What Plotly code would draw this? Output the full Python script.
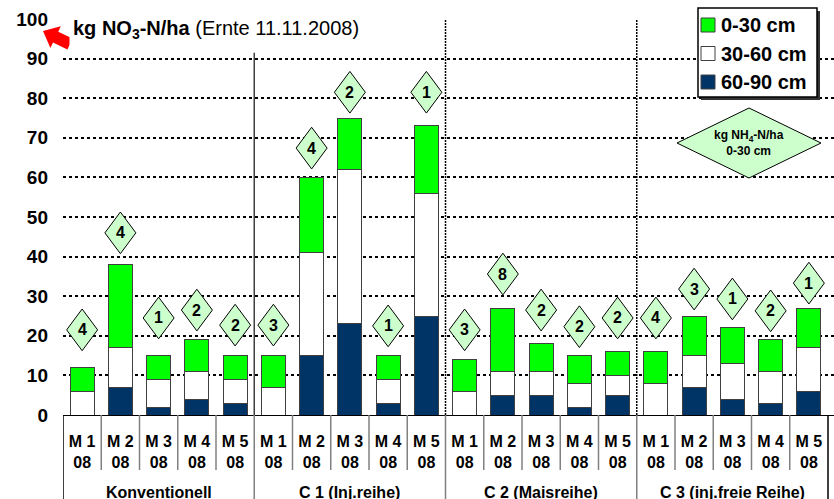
import plotly.graph_objects as go

# Soil nitrate (kg NO3-N/ha) by depth layer, harvest 11.11.2008
groups = ["Konventionell", "C 1 (Inj.reihe)", "C 2 (Maisreihe)", "C 3 (inj.freie Reihe)"]
plots = ["M 1", "M 2", "M 3", "M 4", "M 5"]
year = "08"

layer_60_90 = [0, 7, 2, 4, 3,  0, 15, 23, 3, 25,  0, 5, 5, 2, 5,  0, 7, 4, 3, 6]
layer_30_60 = [6, 10, 7, 7, 6,  7, 26, 39, 6, 31,  6, 6, 6, 6, 5,  8, 8, 9, 8, 11]
layer_0_30 = [6, 21, 6, 8, 6,  8, 19, 13, 6, 17,  8, 16, 7, 7, 6,  8, 10, 9, 8, 10]

# NH4-N (0-30 cm) shown in the diamond badges
nh4_0_30 = [4, 4, 1, 2, 2,  3, 4, 2, 1, 1,  3, 8, 2, 2, 2,  4, 3, 1, 2, 1]
# vertical placement of each badge (y-axis units)
badge_y = [21.5, 46, 24.5, 26.5, 22.7,  22.7, 67.4, 81.5, 22.5, 81.5,
           21.5, 35.6, 26.5, 22.3, 24.5,  24.5, 31.8, 29.3, 26.3, 33.3]

layer_names = ["0-30 cm", "30-60 cm", "60-90 cm"]
layer_colors = ["#00ff00", "#ffffff", "#003366"]

y_ticks = list(range(0, 101, 10))

W, H = 834, 499
ML, MR, MT, MB = 63, 0, 19, 84
PW, PH = W - ML - MR, H - MT - MB
CAT_W = 38.25  # pixels per category


def px_x(px):
    return (px - ML) / PW


def px_y(py):
    return (H - MB - py) / PH


n = len(groups) * len(plots)
xs = list(range(n))
tick_text = [f"{p}<br>{year}" for _ in groups for p in plots]
x_max = -0.5 + PW / CAT_W

FONT = "Liberation Sans, Arial, sans-serif"
bar_line = dict(color="#404040", width=1)

fig = go.Figure()
for vals, name in ((layer_60_90, "60-90 cm"), (layer_30_60, "30-60 cm"), (layer_0_30, "0-30 cm")):
    fig.add_trace(go.Bar(x=xs, y=vals, name=name, width=0.63, showlegend=False,
                         marker=dict(color=layer_colors[layer_names.index(name)], line=bar_line)))

shapes = []
annotations = []

# diamond badges with NH4 values
hw, hh = 0.405, 5.26
for x, yv, v in zip(xs, badge_y, nh4_0_30):
    shapes.append(dict(
        type="path", xref="x", yref="y",
        path=f"M {x - hw},{yv} L {x},{yv + hh} L {x + hw},{yv} L {x},{yv - hh} Z",
        fillcolor="#ccffcc", line=dict(color="black", width=1), layer="above"))
    annotations.append(dict(x=x, y=yv, xref="x", yref="y", text=f"<b>{v}</b>",
                            xanchor="center", yanchor="middle",
                            showarrow=False, font=dict(family=FONT, size=16, color="black")))

# group separators inside the plot
shapes.append(dict(type="line", xref="x", yref="y", x0=4.5, x1=4.5, y0=0, y1=91.5,
                   line=dict(color="#404040", width=1.5)))
for xb in (9.5, 14.5):
    shapes.append(dict(type="line", xref="x", yref="y", x0=xb, x1=xb, y0=0, y1=101,
                       line=dict(color="black", width=1.5, dash="2px,1px")))

# table lines below the axis
y_bottom = px_y(H)
y_short = px_y(470)
for k in range(n + 1):
    xb = k - 0.5
    full = (k % len(plots) == 0)
    shapes.append(dict(type="line", xref="x", yref="paper", x0=xb, x1=xb,
                       y0=0, y1=y_bottom if full else y_short,
                       line=dict(color="#808080" if 0 < k < n else "black", width=1.5)))

# group labels
for gi, g in enumerate(groups):
    annotations.append(dict(x=gi * len(plots) + 2, y=px_y(492), xref="x", yref="paper",
                            text=f"<b>{g}</b>", showarrow=False, xanchor="center",
                            yanchor="middle",
                            font=dict(family=FONT, size=16, color="black")))

# heading with white backing
annotations.append(dict(x=px_x(69), y=px_y(29), xref="paper", yref="paper",
                        xanchor="left", yanchor="middle", showarrow=False,
                        text="<b>kg NO<sub>3</sub>-N/ha</b> (Ernte 11.11.2008)",
                        bgcolor="white", borderpad=3,
                        font=dict(family=FONT, size=20, color="black")))

# red block arrow pointing at the axis unit
tail, tip = (70, 44), (43, 31)
dx, dy = tip[0] - tail[0], tip[1] - tail[1]
L = (dx * dx + dy * dy) ** 0.5
ux, uy = dx / L, dy / L
nx, ny = -uy, ux
head_len, head_hw, shaft_hw = 14, 12, 6
bx, by = tip[0] - ux * head_len, tip[1] - uy * head_len
pts = [
    (tail[0] + nx * shaft_hw, tail[1] + ny * shaft_hw),
    (bx + nx * shaft_hw, by + ny * shaft_hw),
    (bx + nx * head_hw, by + ny * head_hw),
    tip,
    (bx - nx * head_hw, by - ny * head_hw),
    (bx - nx * shaft_hw, by - ny * shaft_hw),
    (tail[0] - nx * shaft_hw, tail[1] - ny * shaft_hw),
]
path = "M " + " L ".join(f"{px_x(a):.5f},{px_y(b):.5f}" for a, b in pts) + " Z"
shapes.append(dict(type="path", xref="paper", yref="paper", path=path,
                   fillcolor="#ff0000", line=dict(width=0), layer="above"))

# NH4 key diamond
cx, cy, dhw, dhh = px_x(749), px_y(143), 72 / PW, 35 / PH
shapes.append(dict(type="path", xref="paper", yref="paper",
                   path=f"M {cx - dhw},{cy} L {cx},{cy + dhh} L {cx + dhw},{cy} L {cx},{cy - dhh} Z",
                   fillcolor="#ccffcc", line=dict(color="black", width=1), layer="above"))
annotations.append(dict(x=cx, y=cy, xref="paper", yref="paper", showarrow=False,
                        xanchor="center", yanchor="middle",
                        text="<b>kg NH<sub>4</sub>-N/ha<br>0-30 cm</b>",
                        font=dict(family=FONT, size=12, color="black")))

# legend box with drop shadow
lx0, lx1, ly0, ly1 = 698, 817, 8, 97
shapes.append(dict(type="rect", xref="paper", yref="paper",
                   x0=px_x(lx0 + 3), x1=px_x(lx1 + 3), y0=px_y(ly1 + 3), y1=px_y(ly0 + 3),
                   fillcolor="#333333", line=dict(width=0), layer="above"))
shapes.append(dict(type="rect", xref="paper", yref="paper",
                   x0=px_x(lx0), x1=px_x(lx1), y0=px_y(ly1), y1=px_y(ly0),
                   fillcolor="white", line=dict(color="black", width=1.5), layer="above"))
for i, (name, col) in enumerate(zip(layer_names, layer_colors)):
    yc = 25 + i * 28.5
    shapes.append(dict(type="rect", xref="paper", yref="paper",
                       x0=px_x(701), x1=px_x(715), y0=px_y(yc + 7), y1=px_y(yc - 7),
                       fillcolor=col, line=dict(color="#404040", width=1), layer="above"))
    annotations.append(dict(x=px_x(719), y=px_y(yc), xref="paper", yref="paper",
                            xanchor="left", yanchor="middle", showarrow=False,
                            text=f"<b>{name}</b>",
                            font=dict(family=FONT, size=20, color="black")))

fig.update_layout(
    width=W, height=H,
    margin=dict(l=ML, r=MR, t=MT, b=MB),
    paper_bgcolor="white", plot_bgcolor="white",
    barmode="stack", bargap=0.37,
    font=dict(family=FONT, color="black"),
    showlegend=False,
    xaxis=dict(range=[-0.5, x_max], tickvals=xs, ticktext=tick_text,
               tickfont=dict(family=FONT, size=16, color="black", weight="bold"),
               showline=True, linecolor="black", linewidth=1, ticks="",
               ticklabelstandoff=12,
               showgrid=False, zeroline=False, fixedrange=True),
    yaxis=dict(range=[0, 100], tickvals=y_ticks,
               tickfont=dict(family=FONT, size=19, color="black", weight="bold"),
               showgrid=True, gridcolor="black", gridwidth=1.5, griddash="3px,3px",
               zeroline=False, showline=False, ticks="", ticklabelstandoff=14,
               fixedrange=True),
    shapes=shapes, annotations=annotations,
)

fig.write_html("out.html")
